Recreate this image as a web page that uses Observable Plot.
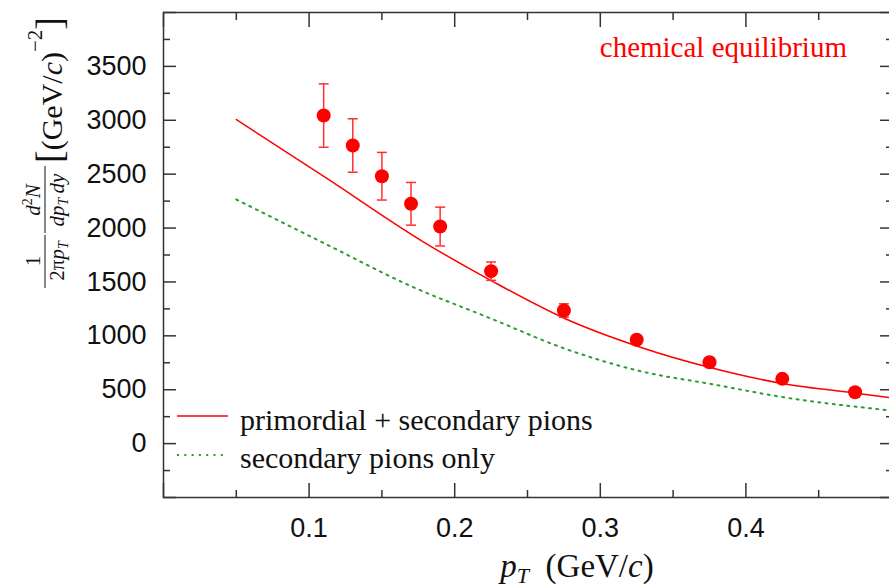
<!DOCTYPE html>
<html><head><meta charset="utf-8">
<script src="https://cdn.jsdelivr.net/npm/d3@7"></script>
<script src="https://cdn.jsdelivr.net/npm/@observablehq/plot@0.6"></script>
<style>html,body{margin:0;padding:0;overflow:hidden;background:#fff}</style>
</head><body><div id="chart"></div>
<script>
// Measured points (pT in GeV/c, yield)
const ptX   = [0.11, 0.13, 0.15, 0.17, 0.19, 0.225, 0.275, 0.325, 0.375, 0.425, 0.475];
const ptY   = [3044, 2766, 2481, 2225, 2014, 1600, 1235, 963, 755, 601, 477];
const ptErr = [294, 248, 221, 198, 180, 85, 62, 40, 30, 25, 20];

// primordial + secondary pions (solid red)
const redX = [0.05, 0.113, 0.177, 0.225, 0.276, 0.3285, 0.376, 0.426, 0.477, 0.5];
const redY = [3007, 2453, 1884, 1513, 1158, 890, 704, 555, 466, 425];

// secondary pions only (dotted green)
const greenX = [0.05, 0.113, 0.169, 0.225, 0.2755, 0.3285, 0.376, 0.426, 0.5];
const greenY = [2265, 1841, 1467, 1160, 882, 669, 553, 430, 307];

const xLabelTicks = [0.1, 0.2, 0.3, 0.4];
const yLabelTicks = [0, 500, 1000, 1500, 2000, 2500, 3000, 3500];
const xMajor = [0, 0.1, 0.2, 0.3, 0.4, 0.5];
const xMinor = [0.05, 0.15, 0.25, 0.35, 0.45];
const yMajor = [-500, 0, 500, 1000, 1500, 2000, 2500, 3000, 3500, 4000];
const yMinor = [-250, 250, 750, 1250, 1750, 2250, 2750, 3250, 3750];

const points = ptX.map((x, i) => ({x, y: ptY[i], lo: ptY[i] - ptErr[i], hi: ptY[i] + ptErr[i]}));
const red = redX.map((x, i) => ({x, y: redY[i]}));
const green = greenX.map((x, i) => ({x, y: greenY[i]}));

const capSymbol = {draw(ctx, size) { const w = Math.sqrt(size / Math.PI); ctx.moveTo(-w, 0); ctx.lineTo(w, 0); }};
const tk = {stroke: "#333", strokeWidth: 1.5, tickFormat: () => "", label: null};

const chart = Plot.plot({
  width: 891, height: 587,
  marginLeft: 163, marginRight: 0, marginTop: 12, marginBottom: 90,
  style: {fontFamily: "'Liberation Sans', Arial, Helvetica, sans-serif", fontSize: "27px", background: "#fff", color: "#111", maxWidth: "none"},
  x: {domain: [0, 0.5]},
  y: {domain: [-500, 4000]},
  marks: [
    Plot.axisX({anchor: "bottom", ticks: xLabelTicks, tickSize: 0, tickPadding: 20, label: null, tickFormat: d3.format(".1f")}),
    Plot.axisY({anchor: "left", ticks: yLabelTicks, tickSize: 0, tickPadding: 17, label: null, tickFormat: d => String(d)}),
    Plot.axisX({anchor: "bottom", ticks: xMajor, tickSize: 14, dy: -14, ...tk}),
    Plot.axisX({anchor: "bottom", ticks: xMinor, tickSize: 7, dy: -7, ...tk}),
    Plot.axisX({anchor: "top", ticks: xMajor, tickSize: 14, dy: 14, ...tk}),
    Plot.axisX({anchor: "top", ticks: xMinor, tickSize: 7, dy: 7, ...tk}),
    Plot.axisY({anchor: "left", ticks: yMajor, tickSize: 13, dx: 13, ...tk}),
    Plot.axisY({anchor: "left", ticks: yMinor, tickSize: 7, dx: 7, ...tk}),
    Plot.axisY({anchor: "right", ticks: yMajor, tickSize: 12, dx: -12, ...tk}),
    Plot.axisY({anchor: "right", ticks: yMinor, tickSize: 6, dx: -6, ...tk}),
    Plot.frame({stroke: "#333", strokeWidth: 1.5}),
    Plot.line(green, {x: "x", y: "y", curve: "monotone-x", stroke: "#2e9b2e", strokeWidth: 2, strokeDasharray: "2,5.3"}),
    Plot.line(red, {x: "x", y: "y", curve: "monotone-x", stroke: "#ff0000", strokeWidth: 1.5}),
    Plot.ruleX(points, {x: "x", y1: "lo", y2: "hi", stroke: "#ff3030", strokeWidth: 1.5}),
    Plot.dot(points, {x: "x", y: "lo", symbol: capSymbol, r: 5, stroke: "#ff3030", strokeWidth: 1.5, fill: "none"}),
    Plot.dot(points, {x: "x", y: "hi", symbol: capSymbol, r: 5, stroke: "#ff3030", strokeWidth: 1.5, fill: "none"}),
    Plot.dot(points, {x: "x", y: "y", r: 7, fill: "#ff0000", stroke: "none"})
  ]
});
document.getElementById("chart").appendChild(chart);

const svg = d3.select(chart);
const serif = "'Liberation Serif', 'Times New Roman', serif";

// annotation
svg.append("text").attr("x", 847).attr("y", 57).attr("text-anchor", "end")
  .attr("fill", "#ff0000").style("font-family", serif).style("font-size", "29px")
  .text("chemical equilibrium");

// legend
const leg = svg.append("g").attr("text-anchor", "start").style("font-family", serif).style("font-size", "30px").attr("fill", "#111");
leg.append("line").attr("x1", 177).attr("x2", 228).attr("y1", 416).attr("y2", 416)
  .attr("stroke", "#ff0000").attr("stroke-width", 1.5);
leg.append("text").attr("text-anchor", "start").attr("x", 240).attr("y", 430).text("primordial + secondary pions");
leg.append("line").attr("x1", 177).attr("x2", 224).attr("y1", 455).attr("y2", 455)
  .attr("stroke", "#2e9b2e").attr("stroke-width", 2).attr("stroke-dasharray", "2,5.3");
leg.append("text").attr("text-anchor", "start").attr("x", 240).attr("y", 468).text("secondary pions only");

// x label
const xl = svg.append("text").attr("x", 577).attr("y", 577).attr("text-anchor", "middle")
  .style("font-family", serif).style("font-size", "33px").attr("fill", "#111");
xl.append("tspan").style("font-style", "italic").text("p");
xl.append("tspan").style("font-style", "italic").style("font-size", "22px").attr("dy", 6).text("T");
xl.append("tspan").attr("dy", -6).text("\u2002(GeV/");
xl.append("tspan").style("font-style", "italic").text("c");
xl.append("tspan").text(")");

// y label (rotated)
const yl = svg.append("g").attr("transform", "rotate(-90)").style("font-family", serif).attr("fill", "#111");
// fraction 1/(2 pi pT)
yl.append("text").attr("text-anchor", "middle").attr("x", -261).attr("y", 40).style("font-size", "21px").text("1");
yl.append("line").attr("x1", -288).attr("x2", -235).attr("y1", 45).attr("y2", 45).attr("stroke", "#111").attr("stroke-width", 1);
const d1 = yl.append("text").attr("text-anchor", "middle").attr("x", -261).attr("y", 64).style("font-size", "21px");
d1.append("tspan").text("2\u03c0");
d1.append("tspan").style("font-style", "italic").text("p");
d1.append("tspan").style("font-style", "italic").style("font-size", "14px").attr("dy", 4).text("T");
// fraction d2N/(dpT dy)
const n2 = yl.append("text").attr("text-anchor", "middle").attr("x", -200).attr("y", 40).style("font-size", "21px");
n2.append("tspan").style("font-style", "italic").text("d");
n2.append("tspan").style("font-size", "14px").attr("dy", -8).text("2");
n2.append("tspan").style("font-style", "italic").attr("dy", 8).text("N");
yl.append("line").attr("x1", -233).attr("x2", -166).attr("y1", 45).attr("y2", 45).attr("stroke", "#111").attr("stroke-width", 1);
const d2 = yl.append("text").attr("text-anchor", "middle").attr("x", -200).attr("y", 64).style("font-size", "21px");
d2.append("tspan").style("font-style", "italic").text("dp");
d2.append("tspan").style("font-style", "italic").style("font-size", "14px").attr("dy", 4).text("T");
d2.append("tspan").style("font-style", "italic").attr("dy", -4).text("\u2009dy");
// [(GeV/c)^-2]
const br = yl.append("text").attr("text-anchor", "start").attr("x", -163).attr("y", 62).style("font-size", "30px");
br.append("tspan").style("font-size", "38px").text("[");
br.append("tspan").text("(GeV/");
br.append("tspan").style("font-style", "italic").text("c");
br.append("tspan").text(")");
br.append("tspan").style("font-size", "21px").attr("dy", -20).text("\u22122");
br.append("tspan").style("font-size", "38px").attr("dy", 20).text("]");
</script>
</body></html>
